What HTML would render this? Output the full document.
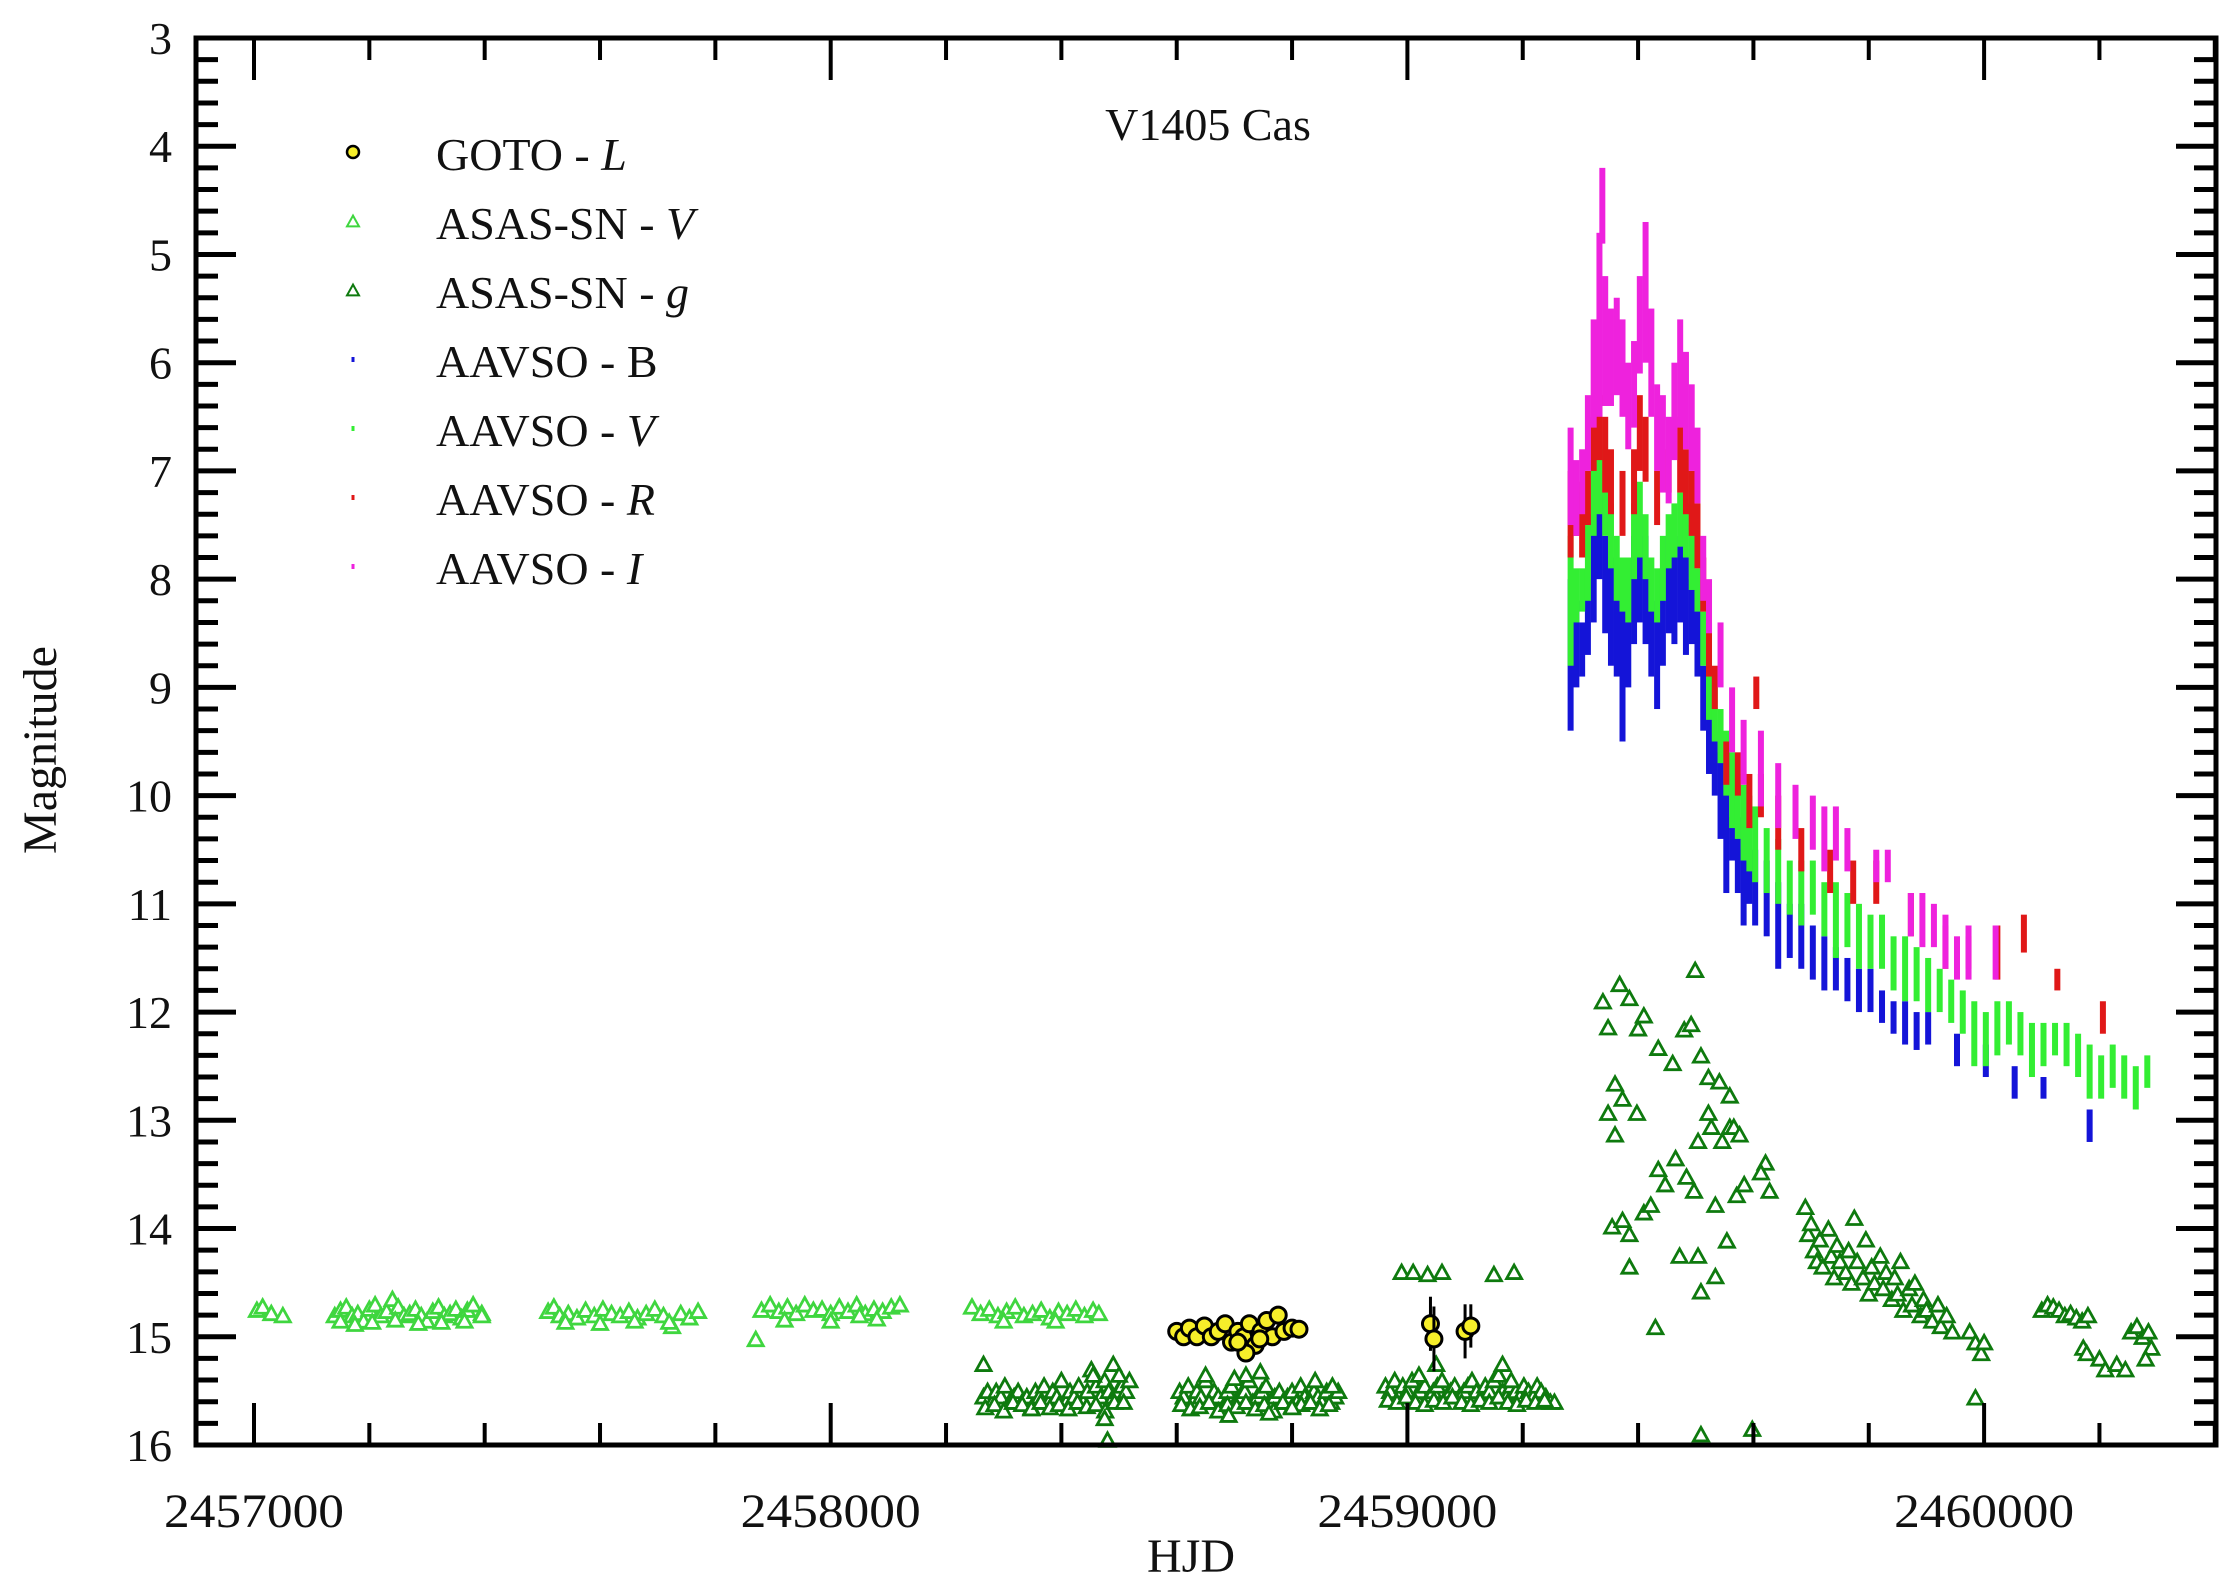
<!DOCTYPE html>
<html><head><meta charset="utf-8"><style>
html,body{margin:0;padding:0;background:#fff;}
svg{display:block;}
text{font-family:"Liberation Serif",serif;fill:#111;}
</style></head><body>
<svg id="chart" width="2230" height="1594" viewBox="0 0 2230 1594" xmlns="http://www.w3.org/2000/svg">
<g id="marks"></g>
<g id="axes"></g>
<text x="1208" y="140" font-size="46" text-anchor="middle">V1405 Cas</text>
<text x="1191" y="1572" font-size="48" text-anchor="middle">HJD</text>
<text transform="translate(56,750) rotate(-90)" font-size="48" text-anchor="middle">Magnitude</text>
<g id="legend"></g>
</svg>
<script>
// ---------- data ----------
const xTickValues = [2457000, 2458000, 2459000, 2460000];
const xTickLabels = ["2457000", "2458000", "2459000", "2460000"];
const yTickValues = [3,4,5,6,7,8,9,10,11,12,13,14,15,16];
const yTickLabels = ["3","4","5","6","7","8","9","10","11","12","13","14","15","16"];
const legendLabels = ["GOTO - ", "ASAS-SN - ", "ASAS-SN - ", "AAVSO - B", "AAVSO - ", "AAVSO - ", "AAVSO - "];
const legendItalic = ["L", "V", "g", "", "V", "R", "I"];

// GOTO L (HJD-2457000, mag)
const gotoDays = [1600,1612,1622,1635,1648,1660,1672,1684,1695,1706,1716,1726,1736,1746,1756,1766,1776,1786,1800,1812,1720,1744,1706,2040,2046,2100,2110];
const gotoMags = [14.95,15.0,14.92,15.0,14.9,15.0,14.95,14.88,15.05,14.95,15.0,14.88,15.08,14.95,14.85,15.0,14.8,14.95,14.92,14.93,15.15,15.02,15.05,14.88,15.02,14.95,14.9];
const gotoErr = [0.05,0.05,0.05,0.05,0.05,0.05,0.05,0.05,0.05,0.05,0.05,0.05,0.05,0.05,0.05,0.05,0.05,0.05,0.05,0.05,0.05,0.05,0.05,0.25,0.3,0.25,0.2];

// ASAS-SN V (HJD-2457000, mag)
const asasVDays = [5,15,30,50,
 140,150,160,170,180,190,200,210,220,230,240,250,260,270,280,290,300,310,320,330,340,350,360,370,380,395,150,175,205,245,285,325,365,395,
 510,520,530,545,560,575,590,605,620,635,650,665,680,695,710,725,740,755,770,540,600,660,720,
 880,870,895,910,925,940,955,970,985,1000,1015,1030,1045,1060,1075,1090,1105,1120,920,1000,1080,1050,
 1245,1260,1275,1290,1305,1320,1335,1350,1365,1380,1395,1410,1425,1440,1455,1465,1300,1390];
const asasVMags = [14.75,14.72,14.78,14.8,
 14.8,14.75,14.72,14.8,14.78,14.85,14.74,14.7,14.8,14.76,14.65,14.72,14.8,14.78,14.74,14.8,14.85,14.76,14.72,14.8,14.78,14.74,14.82,14.75,14.7,14.78,14.85,14.88,14.86,14.84,14.87,14.86,14.85,14.8,
 14.76,14.72,14.8,14.78,14.82,14.75,14.8,14.74,14.78,14.8,14.76,14.82,14.78,14.74,14.8,14.9,14.78,14.82,14.76,14.86,14.87,14.85,14.86,
 14.75,15.02,14.7,14.76,14.72,14.78,14.7,14.75,14.74,14.78,14.72,14.76,14.7,14.78,14.74,14.76,14.72,14.7,14.84,14.85,14.83,14.8,
 14.72,14.78,14.74,14.8,14.76,14.72,14.8,14.78,14.75,14.82,14.76,14.78,14.74,14.8,14.75,14.78,14.85,14.85];

// ASAS-SN g (HJD-2457000, mag)
const asasGDays = [1265,1272,1280,1287,1295,1302,1310,1318,1325,1332,1340,1348,1355,1362,1370,1378,1385,1392,1400,1408,1415,1422,1430,1438,1445,1452,1460,1468,1475,1482,1490,1498,1505,1512,1518,
 1268,1284,1300,1316,1332,1348,1364,1380,1396,1412,1428,1444,1460,1476,1492,1508,1265,1475,1480,1490,1455,1500,
 1605,1612,1620,1628,1635,1642,1650,1658,1665,1672,1680,1688,1695,1702,1710,1718,1725,1732,1740,1748,1755,1762,1770,1778,1785,1792,1800,1808,1815,1822,1830,1838,1845,1852,1860,1868,1875,1880,
 1608,1624,1640,1656,1672,1688,1704,1720,1736,1752,1768,1784,1800,1816,1832,1848,1864,1650,1690,1720,1760,1800,1840,1870,1700,1745,
 1962,1970,1978,1985,1992,2000,2008,2015,2022,2030,2038,2045,2052,2060,2068,2075,2082,2090,2098,2105,2112,2120,2128,2135,2142,2150,2158,2165,2172,2180,2188,2195,2202,2210,2218,2225,2232,2240,2248,2255,
 1966,1982,1998,2014,2030,2046,2062,2078,2094,2110,2126,2142,2158,2174,2190,2206,2222,2238,2050,2165,2020,2180,
 1990,2010,2035,2060,2150,2185,
 2348,2368,2385,2410,2360,2373,2398,2435,2460,2480,2492,2499,2509,2522,2541,2559,2348,2355,2373,2385,2410,2422,2435,2447,2465,2484,2497,2504,2527,2546,2559,2566,2430,2509,2534,2385,2472,2534,2571,2584,2621,2628,2613,2576,2360,2522,2554,2504,2339,2400,2509,2598,
 2690,2695,2700,2705,2710,2715,2720,2730,2735,2740,2745,2750,2760,2765,2770,2775,2780,2790,2795,2800,2805,2810,2820,2825,2830,2840,2845,2850,2855,2860,2870,2875,2880,2890,2895,2900,2910,2920,2925,2935,2945,2975,2985,2995,3000,2985,
 3100,3110,3120,3130,3140,3150,3160,3170,3180,3172,3178,3200,3210,3230,3245,3255,3265,3275,3285,3290,3280];
const asasGMags = [15.55,15.5,15.6,15.5,15.55,15.45,15.6,15.55,15.5,15.6,15.55,15.65,15.5,15.55,15.45,15.6,15.5,15.55,15.4,15.6,15.5,15.55,15.45,15.6,15.5,15.3,15.45,15.55,15.4,15.5,15.55,15.5,15.45,15.5,15.4,
 15.65,15.62,15.68,15.6,15.62,15.66,15.6,15.65,15.62,15.66,15.6,15.64,15.62,15.68,15.6,15.6,15.25,15.75,15.95,15.25,15.35,15.35,
 15.5,15.55,15.45,15.6,15.5,15.55,15.4,15.6,15.5,15.55,15.65,15.5,15.45,15.6,15.55,15.5,15.4,15.6,15.55,15.5,15.45,15.6,15.55,15.5,15.6,15.55,15.5,15.6,15.45,15.55,15.6,15.5,15.55,15.6,15.5,15.6,15.55,15.5,
 15.62,15.66,15.64,15.6,15.68,15.62,15.64,15.6,15.66,15.62,15.68,15.6,15.64,15.62,15.6,15.66,15.62,15.35,15.72,15.35,15.7,15.65,15.4,15.45,15.38,15.32,
 15.45,15.5,15.4,15.55,15.45,15.5,15.4,15.55,15.5,15.45,15.55,15.5,15.45,15.4,15.55,15.5,15.45,15.55,15.5,15.45,15.4,15.5,15.55,15.45,15.5,15.4,15.35,15.5,15.55,15.45,15.5,15.55,15.45,15.5,15.55,15.45,15.5,15.55,15.6,15.6,
 15.58,15.6,15.55,15.6,15.62,15.58,15.6,15.55,15.6,15.62,15.58,15.6,15.55,15.6,15.62,15.58,15.6,15.58,15.25,15.25,15.35,15.4,
 14.4,14.4,14.42,14.4,14.42,14.4,
 12.14,11.74,11.87,12.03,12.66,12.8,12.93,12.33,12.47,12.16,12.11,11.61,12.4,12.6,12.64,12.77,12.93,13.98,13.92,14.35,13.85,13.78,13.45,13.59,13.35,13.52,13.65,13.19,13.06,13.19,13.06,13.06,14.91,14.58,14.44,14.05,14.25,13.78,13.69,13.59,13.39,13.65,13.48,13.13,13.13,12.93,14.11,14.25,11.9,12.15,15.9,15.85,
 13.8,14.05,13.95,14.2,14.3,14.1,14.35,14.0,14.25,14.45,14.15,14.3,14.4,14.2,14.5,13.9,14.3,14.45,14.1,14.6,14.35,14.5,14.25,14.55,14.4,14.65,14.45,14.6,14.3,14.75,14.55,14.7,14.5,14.8,14.65,14.75,14.85,14.7,14.9,14.8,14.95,14.95,15.05,15.15,15.05,15.56,
 14.75,14.7,14.72,14.75,14.8,14.78,14.82,14.85,14.8,15.1,15.15,15.2,15.3,15.25,15.3,14.95,14.9,15.0,14.95,15.1,15.2];

// AAVSO bands: HJD-2459000, bright edge (hi), faint edge (lo)
const bDays = [283,293,303,313,323,333,343,353,363,373,383,393,403,413,423,433,443,453,463,473,483,493,503,513,523,533,543,553,563,573,583,593,603,623,643,663,683,703,723,743,763,783,803,823,843,863,883,903,953,1003,1053,1103,1183];
const bHi   = [8.0,8.2,8.4,8.0,7.4,7.2,7.6,7.8,7.9,8.0,8.3,7.6,7.4,7.6,8.2,8.3,7.9,7.6,7.8,7.6,7.8,8.0,8.2,8.8,9.2,9.4,9.6,9.8,10.2,10.2,10.5,10.5,10.5,10.6,10.8,11.0,11.0,11.2,11.3,11.4,11.5,11.6,11.6,11.8,11.9,11.9,12.0,12.0,12.2,12.3,12.5,12.6,12.9];
const bLo   = [9.4,9.0,8.9,8.7,8.4,8.0,8.5,8.8,8.9,9.5,9.0,8.6,8.4,8.6,8.9,9.2,8.8,8.5,8.6,8.4,8.7,8.6,8.9,9.4,9.8,10.0,10.4,10.9,10.6,10.9,11.2,11.0,11.2,11.3,11.6,11.5,11.6,11.7,11.8,11.8,11.9,12.0,12.0,12.1,12.2,12.3,12.35,12.3,12.5,12.6,12.8,12.8,13.2];
const vDays = [283,293,303,313,323,333,343,353,363,373,383,393,403,413,423,433,443,453,463,473,483,493,503,513,523,533,543,553,563,573,583,593,603,623,643,663,683,703,723,743,763,783,803,823,843,863,883,903,923,943,963,983,1003,1023,1043,1063,1083,1103,1123,1143,1163,1183,1203,1223,1243,1263,1283];
const vHi   = [7.6,7.9,7.9,7.5,6.9,6.8,7.0,7.3,7.6,7.8,7.8,7.3,7.1,7.4,7.8,7.9,7.6,7.4,7.3,7.2,7.3,7.5,7.9,8.3,8.7,9.0,9.2,9.4,9.6,9.8,9.9,10.0,10.1,10.3,10.4,10.6,10.6,10.6,10.8,10.8,10.9,11.0,11.1,11.1,11.3,11.3,11.4,11.5,11.6,11.7,11.8,11.9,12.0,11.9,11.9,12.0,12.1,12.1,12.1,12.1,12.2,12.3,12.4,12.3,12.4,12.5,12.4];
const vLo   = [8.8,8.4,8.3,8.2,7.6,7.4,7.6,7.9,8.2,8.3,8.4,8.0,7.8,8.0,8.3,8.4,8.2,7.9,7.8,7.7,7.8,8.1,8.3,8.8,9.3,9.5,9.7,10.0,10.3,10.4,10.6,10.7,10.8,10.9,11.0,11.1,11.2,11.1,11.3,11.5,11.4,11.6,11.6,11.6,11.8,11.9,11.9,12.0,12.0,12.1,12.2,12.5,12.5,12.4,12.3,12.4,12.6,12.5,12.4,12.5,12.6,12.8,12.8,12.7,12.8,12.9,12.7];
const rDays = [283,293,303,313,323,333,343,353,373,393,403,413,433,453,473,483,493,503,513,523,533,553,573,593,605,613,643,683,733,773,813,873,933,973,1023,1069,1127,1206];
const rHi   = [7.0,7.1,7.2,7.0,6.5,6.3,6.5,6.8,7.0,6.8,6.3,6.5,7.0,6.8,6.5,6.8,7.0,7.3,7.8,8.4,8.8,9.5,9.6,9.8,8.9,9.8,10.0,10.3,10.5,10.6,10.6,10.9,11.2,11.3,11.2,11.1,11.6,11.9];
const rLo   = [7.8,7.6,7.8,7.5,7.0,6.9,7.2,7.4,7.6,7.4,7.0,7.1,7.5,7.2,7.2,7.4,7.6,7.9,8.3,8.9,9.2,9.9,10.0,10.3,9.2,10.2,10.5,10.7,10.9,11.0,11.0,11.3,11.6,11.6,11.7,11.45,11.8,12.2];
const iDays = [283,293,303,313,323,333,338,343,353,363,373,383,393,403,413,423,433,443,453,463,473,483,493,503,513,523,543,563,583,613,643,673,703,723,743,763,813,833,873,893,913,933,953,973,1020];
const iHi   = [6.6,6.9,6.8,6.3,5.6,4.8,4.2,5.2,5.5,5.4,5.6,6.0,5.8,5.2,4.7,5.5,6.2,6.3,6.5,6.0,5.6,5.9,6.2,6.6,7.6,8.0,8.4,9.0,9.3,9.4,9.7,9.9,10.0,10.1,10.1,10.3,10.5,10.5,10.9,10.9,11.0,11.1,11.3,11.2,11.2];
const iLo   = [7.5,7.6,7.4,7.0,6.6,6.5,4.9,6.4,6.4,6.3,6.5,6.8,6.6,6.1,6.0,6.5,7.0,7.2,7.3,6.9,6.6,6.8,7.0,7.3,8.2,8.5,9.0,9.6,9.9,10.1,10.3,10.4,10.5,10.7,10.6,10.7,10.8,10.8,11.3,11.4,11.4,11.6,11.7,11.7,11.7];

// ---------- scales ----------
const L = 196, R = 2216, T = 38, B = 1445;
const X0 = 2457000, PXD = 0.5767;
function xs(d){ return L + 58 + (d - X0) * PXD; }
function ys(m){ return T + (m - 3) * (B - T) / 13; }
const NS = "http://www.w3.org/2000/svg";
function mk(tag, attrs, parent){
  const e = document.createElementNS(NS, tag);
  for (const k in attrs) e.setAttribute(k, attrs[k]);
  parent.appendChild(e);
  return e;
}
const marks = document.getElementById('marks');
const axes = document.getElementById('axes');
const legend = document.getElementById('legend');

function tri(cx, cy, s, color, parent, sw){
  const h = s * 0.9;
  return mk('polygon', {points: `${cx},${cy-h/2} ${cx-s/2},${cy+h/2} ${cx+s/2},${cy+h/2}`, fill: '#fff', stroke: color, 'stroke-width': sw || 2.8}, parent);
}

// ASAS-SN V
const gV = mk('g', {}, marks);


asasVDays.forEach((d, i) => {
  const t = tri(xs(X0 + d), ys(asasVMags[i]), 15, '#3fd63f', gV);
  
  
});
// ASAS-SN g
const gG = mk('g', {}, marks);


asasGDays.forEach((d, i) => {
  const t = tri(xs(X0 + d), ys(asasGMags[i]), 15, '#0e7a0e', gG);
  
  
});

// AAVSO bands
function band(name, days, hi, lo, color){
  const g = mk('g', {}, marks);
  
  
  days.forEach((d, i) => {
    const x = xs(2459000 + d), y1 = ys(hi[i]), y2 = ys(lo[i]);
    const r = mk('rect', {x: x - 3, y: y1, width: 6, height: Math.max(3, y2 - y1), fill: color}, g);
    
    
  });
}
band('aavso-b-series', bDays, bHi, bLo, '#1414d8');
band('aavso-v-series', vDays, vHi, vLo, '#33ee33');
band('aavso-r-series', rDays, rHi, rLo, '#e01818');
band('aavso-i-series', iDays, iHi, iLo, '#ee22dd');

// GOTO
const gGo = mk('g', {}, marks);


gotoDays.forEach((d, i) => {
  const x = xs(X0 + d), y = ys(gotoMags[i]);
  if (gotoErr[i] > 0.1) mk('line', {x1: x, x2: x, y1: ys(gotoMags[i] - gotoErr[i]), y2: ys(gotoMags[i] + gotoErr[i]), stroke: '#000', 'stroke-width': 3}, gGo);
  const c = mk('circle', {cx: x, cy: y, r: 8, fill: '#f6ee2a', stroke: '#000', 'stroke-width': 3}, gGo);
  
  
});

// ---------- axes ----------
mk('rect', {x: L, y: T, width: R - L, height: B - T, fill: 'none', stroke: '#000', 'stroke-width': 5}, axes);
for (let m = 3; m <= 16.001; m += 0.2) {
  const y = ys(m);
  const major = Math.abs(m - Math.round(m)) < 0.01;
  const len = major ? 40 : 22;
  mk('line', {x1: L, x2: L + len, y1: y, y2: y, stroke: '#000', 'stroke-width': 5}, axes);
  mk('line', {x1: R, x2: R - len, y1: y, y2: y, stroke: '#000', 'stroke-width': 5}, axes);
}
for (let d = 2457000; d <= 2460400; d += 200) {
  const x = xs(d);
  if (x > R) break;
  const major = (d % 1000) === 0;
  const len = major ? 42 : 22;
  mk('line', {x1: x, x2: x, y1: T, y2: T + len, stroke: '#000', 'stroke-width': 4}, axes);
  mk('line', {x1: x, x2: x, y1: B, y2: B - len, stroke: '#000', 'stroke-width': 4}, axes);
}
yTickValues.forEach((v, i) => {
  const t = mk('text', {x: 172, y: ys(v) + 16, 'font-size': 46, 'text-anchor': 'end'}, axes);
  t.textContent = yTickLabels[i];
  
  
});
xTickValues.forEach((v, i) => {
  const t = mk('text', {x: xs(v), y: 1527, 'font-size': 48, 'text-anchor': 'middle', textLength: 180, lengthAdjust: 'spacingAndGlyphs'}, axes);
  t.textContent = xTickLabels[i];
  
  
});

// ---------- legend ----------
const lgY0 = 154, lgDY = 69, lgMX = 353, lgTX = 436;
legendLabels.forEach((lab, i) => {
  const y = lgY0 + i * lgDY;
  const g = mk('g', {}, legend);
  
  
  if (i === 0) mk('circle', {cx: lgMX, cy: y - 2, r: 6, fill: '#f6ee2a', stroke: '#000', 'stroke-width': 2.5}, g);
  else if (i === 1) tri(lgMX, y - 2, 12, '#3fd63f', g, 2);
  else if (i === 2) tri(lgMX, y - 2, 12, '#0e7a0e', g, 2);
  else {
    const cols = ['#1414d8', '#33ee33', '#e01818', '#ee22dd'];
    mk('rect', {x: lgMX - 1.5, y: y - 4, width: 3, height: 5, fill: cols[i - 3]}, g);
  }
  const t = mk('text', {x: lgTX, y: y + 16, 'font-size': 46}, g);
  t.appendChild(document.createTextNode(lab));
  if (legendItalic[i]) {
    const s = mk('tspan', {'font-style': 'italic'}, t);
    s.textContent = legendItalic[i];
  }
});
</script>
</body></html>
